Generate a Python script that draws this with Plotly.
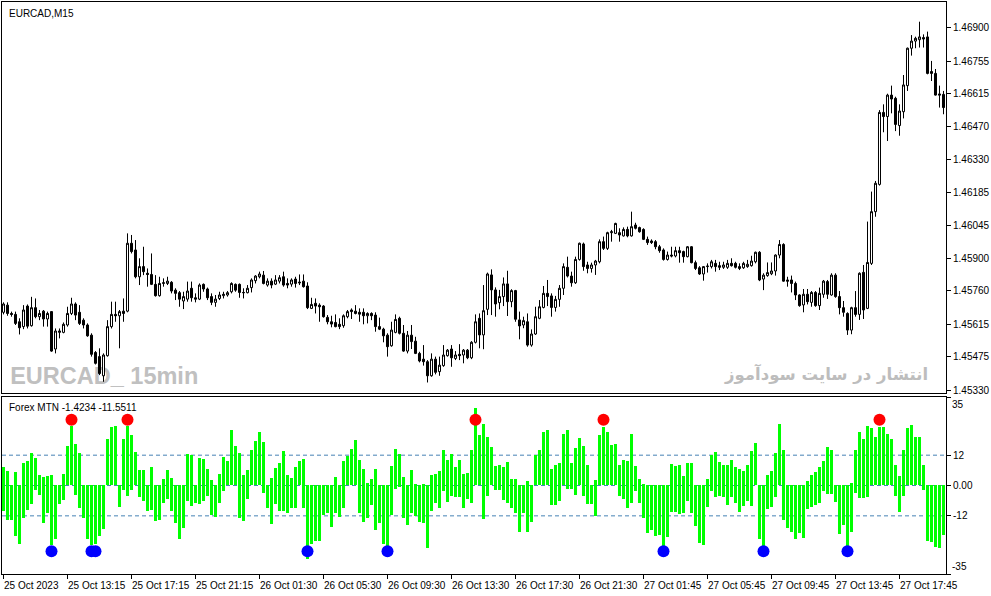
import plotly.graph_objects as go

# ---------------- data (prices in points of 0.00001) ----------------
opens = [145667,145698,145662,145658,145626,145605,145694,145609,145687,145648,
145672,145638,145670,145508,145580,145580,145612,145662,145703,145667,
145633,145612,145568,145493,145475,145392,145479,145605,145658,145652,
145672,145672,145966,145937,145821,145865,145836,145831,145788,145739,
145792,145792,145797,145763,145752,145716,145724,145771,145730,145724,
145788,145768,145735,145710,145727,145739,145742,145756,145788,145788,
145753,145752,145774,145804,145821,145828,145785,145802,145789,145802,
145821,145792,145789,145811,145798,145802,145781,145684,145706,145698,
145694,145645,145626,145623,145615,145609,145648,145677,145672,145667,
145667,145652,145662,145655,145605,145594,145568,145522,145580,145641,
145576,145499,145568,145542,145489,145464,145453,145392,145464,145410,
145436,145479,145508,145467,145485,145482,145503,145470,145537,145641,
145569,145680,145829,145764,145709,145735,145790,145713,145761,145634,
145612,145626,145525,145573,145641,145688,145749,145738,145688,145723,
145771,145862,145824,145795,145896,145963,145872,145857,145872,145886,
145973,145944,146012,146009,146012,145998,146026,145998,146045,146034,
146026,145983,145976,145973,145951,145937,145896,145915,145911,145934,
145930,145908,145951,145882,145860,145833,145865,145865,145879,145869,
145862,145862,145879,145879,145865,145860,145865,145869,145886,145927,
145811,145826,145834,145846,145915,145961,145807,145807,145792,145742,
145699,145745,145710,145753,145696,145745,145800,145742,145828,145735,
145687,145662,145590,145687,145658,145840,145684,145879,146103,146221,
146533,146515,146608,146594,146476,146536,146649,146811,146842,146848,
146857,146860,146710,146702,146613,146611]

highs = [145710,145710,145670,145670,145641,145698,145701,145734,145727,145677,
145677,145670,145672,145597,145597,145623,145691,145730,145710,145698,
145641,145619,145576,145499,145511,145489,145633,145713,145713,145677,
145727,146009,146002,145980,145901,145951,145857,145922,145828,145821,
145814,145821,145802,145771,145759,145756,145800,145800,145749,145792,
145792,145774,145749,145742,145756,145756,145759,145797,145792,145792,
145771,145785,145814,145828,145843,145846,145814,145814,145828,145828,
145843,145814,145814,145821,145831,145831,145797,145730,145727,145706,
145698,145655,145652,145658,145641,145658,145677,145684,145698,145684,
145684,145667,145667,145667,145644,145600,145576,145626,145658,145648,
145612,145586,145612,145561,145496,145525,145460,145489,145475,145475,
145525,145508,145525,145499,145529,145508,145508,145542,145658,145662,
145785,145839,145853,145775,145764,145818,145847,145767,145764,145670,
145648,145662,145593,145691,145720,145781,145807,145749,145738,145785,
145879,145908,145843,145908,145969,145969,145886,145882,145894,145983,
145995,146016,146024,146055,146031,146035,146038,146103,146055,146038,
146031,145995,145983,145980,145959,145944,145930,145951,145951,145951,
145934,145954,145954,145891,145867,145867,145879,145894,145894,145886,
145886,145894,145901,145886,145879,145886,145894,145912,145930,145932,
145836,145883,145883,145918,145980,145966,145821,145826,145800,145745,
145768,145768,145759,145759,145774,145807,145807,145836,145836,145759,
145716,145667,145691,145759,145840,145872,146060,146190,146236,146543,
146568,146614,146649,146601,146568,146695,146814,146868,146861,146926,
146871,146883,146756,146721,146649,146626]

lows = [145658,145652,145648,145612,145571,145594,145597,145605,145641,145633,
145605,145605,145496,145489,145554,145576,145605,145655,145633,145612,
145597,145561,145475,145441,145395,145366,145475,145597,145626,145511,
145626,145667,145922,145814,145785,145828,145778,145785,145735,145735,
145778,145785,145749,145720,145691,145681,145713,145713,145710,145720,
145756,145720,145698,145691,145720,145727,145735,145749,145756,145730,
145727,145749,145753,145792,145814,145788,145778,145771,145785,145792,
145778,145771,145778,145774,145785,145774,145681,145681,145662,145626,
145644,145615,145602,145602,145594,145600,145641,145638,145658,145626,
145615,145619,145633,145583,145590,145537,145475,145518,145576,145571,
145496,145489,145508,145486,145450,145436,145363,145388,145398,145392,
145431,145475,145431,145460,145460,145446,145464,145464,145532,145511,
145507,145655,145655,145648,145680,145694,145651,145689,145626,145550,
145598,145518,145518,145569,145637,145684,145694,145648,145670,145691,
145742,145818,145778,145790,145891,145847,145836,145839,145829,145879,
145937,145937,145973,146006,145973,145995,145992,145995,146026,146012,
145980,145959,145963,145940,145925,145891,145891,145905,145905,145882,
145882,145905,145879,145850,145829,145804,145839,145857,145843,145850,
145855,145855,145865,145857,145850,145855,145860,145865,145879,145802,
145763,145821,145828,145826,145901,145800,145778,145753,145720,145691,
145667,145701,145691,145691,145677,145730,145725,145739,145730,145658,
145648,145569,145572,145648,145634,145638,145681,145872,146081,146216,
146447,146409,146529,146452,146432,146507,146626,146779,146811,146814,
146814,146698,146669,146606,146554,146525]

closes = [145703,145662,145658,145619,145600,145677,145607,145687,145648,145662,
145638,145662,145499,145586,145586,145615,145662,145703,145655,145619,
145612,145565,145485,145446,145402,145482,145605,145658,145652,145670,
145662,145966,145930,145821,145865,145843,145831,145788,145739,145792,
145795,145802,145759,145749,145724,145735,145759,145730,145724,145785,
145768,145730,145710,145724,145742,145745,145752,145792,145763,145753,
145752,145771,145807,145824,145833,145792,145802,145785,145807,145817,
145785,145785,145807,145792,145795,145778,145687,145701,145694,145691,
145648,145626,145616,145605,145605,145652,145670,145670,145662,145659,
145652,145662,145652,145605,145594,145565,145518,145590,145636,145576,
145499,145568,145540,145489,145456,145453,145392,145464,145407,145438,
145482,145503,145470,145482,145479,145503,145470,145537,145626,145569,
145674,145833,145764,145703,145735,145790,145713,145761,145637,145608,
145631,145525,145573,145648,145691,145749,145735,145688,145723,145771,
145865,145824,145795,145896,145966,145865,145857,145872,145889,145973,
145944,146012,146016,146052,146002,146026,145998,146038,146031,146016,
145983,145969,145969,145951,145934,145896,145915,145911,145934,145925,
145908,145951,145882,145857,145833,145865,145867,145886,145865,145862,
145872,145879,145869,145862,145857,145879,145875,145889,145927,145807,
145828,145839,145846,145915,145961,145802,145802,145792,145742,145696,
145745,145713,145753,145696,145749,145802,145745,145828,145735,145687,
145667,145590,145687,145658,145836,145677,145883,146103,146226,146533,
146515,146608,146591,146481,146539,146652,146811,146842,146854,146860,
146851,146702,146702,146608,146608,146554]

# indicator histogram (upper / lower end of every bar)
hist_top = [7.4,5.8,0,5.3,0,8.8,9.5,12.8,10.8,4.3,
3.4,3.6,4.3,0,0.3,4.7,15.5,23.4,16.5,12.8,
0,0,0,0,0,0,18.2,23,23.4,0,
18.2,23.4,19.9,13.2,6.1,6.1,0,7.4,0,0,
2.7,6.1,3,0,0,0,12.4,12.2,0,10.8,
10.5,6.5,2,0,4.7,11.1,9.5,22,15.5,12.8,
4,6,14.2,17.6,21.2,17.3,0,3,7,8.8,
13.5,4,3,7.4,9.7,10.5,0,0,0,0,
0.3,0.3,0,3.4,0,9.7,11.8,14.6,17.8,10.1,
6.5,1,2.7,6.5,0,0,0,7.7,14.6,12.4,
3.4,0,6,0.7,0,0.7,0,4,4.5,5.7,
14.2,10.1,12.4,7.4,10.1,4.7,5.1,14.2,30.8,19.9,
24.3,19.2,15.1,7.7,8.1,7.4,9.2,2.4,2.4,0,
0,1.6,0,11.9,14.2,21.2,21.9,6.5,8.1,8.8,
20.5,21.9,8.8,14.9,18.9,15.5,8.1,0,2,19.9,
23.2,21.2,16.2,16.5,8.1,10.1,9.7,20.5,7.7,2.4,
0.7,0,0,0,0,0,0,8.4,7.8,8.1,
3.6,8.8,8.8,0,0,0,2.7,12.2,13.2,9.2,
8.1,8.1,9.9,7.4,6.5,5.7,8.1,13.8,16.9,0,
0,4,5.7,12.8,24.3,14.2,0,0,0,0,
0,1.6,4,5.4,7.4,9.7,15.1,14.2,0,0,
0,0,1,14.2,21.2,18.2,23.4,22.6,19.3,23,
23,20.5,18.2,8.1,3.8,14.2,22.7,23.9,19.3,19.2,
8.1,0,0,0,0,0]

hist_bottom = [-10.1,-13.5,-13.5,-20,-23,-12.8,-9.5,-7.2,-1.8,-3.8,
-14.9,-10.8,-23.6,-21,-7.2,-5.7,0,0,-3.8,-8.8,
-12.8,-21,-23.6,-23,-20,-17.3,0,0,0,-8.4,
-1.8,-4.3,-1.8,0,-4.7,-6.1,-10.1,-9.5,-14.2,-13.8,
-7,-5.4,-10.1,-14.9,-21,-16.9,-6.1,-8.1,-7,-7.4,
-6.1,-4,-11.5,-12.6,-6.8,-2,0,0,0,-12.8,
-14.2,-5.4,0,0,0,-3.1,-8.8,-15.2,-7.4,-10.1,
-10.1,-11,-8.8,-8.8,0,-8.8,-29,-23,-21.9,-21.9,
-11.5,-10.8,-16.5,-10.8,-12.6,-8.8,0,0,0,-10.8,
-14.6,-12.8,-7.7,-17.6,-14.9,-23,-28.4,-11.5,-1.4,-0.7,
-12.8,-15.5,-11,-11.9,-14.6,-14.9,-24.6,-10.1,-6.8,-8.8,
-2,-6.5,-4.3,-4.5,-4.7,-8.8,-5.4,-6.8,0,0,
-13.2,-4,0,-1.8,-1.8,-5.8,-7,-8.8,-10.8,-18.2,
-10.8,-18.5,-14.6,0,0,0,0,-7.8,-7.8,-6.1,
0,-1.4,-1.4,-3.6,0,-4,-7.2,-7.4,-12.2,0,
0,0,0,0,-4,-5.4,-8.8,-7,-2.3,-7,
-12.8,-18.9,-17.6,-20,-19.6,-24.3,-20.5,-10.5,-10.4,-11.1,
-10.8,-6.1,-10.8,-15.9,-22.6,-23.4,-8.4,-2,-4.7,-4.3,
-4.7,-7.8,-4.7,-6.8,-10.5,-8.1,-6.1,-8.1,0,-21,
-24.3,-9.2,-8.5,-4.7,0,-13.8,-16.9,-18.5,-21,-18.9,
-20.7,-9.2,-8.5,-7.8,-6.8,-2,-3.4,-3.4,-6.5,-19.3,
-15.5,-24.3,-18.2,-3.1,-5.1,-5.1,-4.7,0,0,0,
0,0,0,-4.3,-10.4,-4.3,0,0,0,0,
-1.6,-21.9,-22.5,-24.3,-24.6,-19.6]

sell_signal_bars = [17, 31, 118, 150, 219]
buy_signal_bars = [12, 22, 23, 76, 96, 165, 190, 211]
sell_signal_level = 26
buy_signal_level = -26

price_ticks = [1.46900, 1.46755, 1.46615, 1.46470, 1.46330, 1.46185,
               1.46045, 1.45900, 1.45760, 1.45615, 1.45475, 1.45330]
time_tick_bars = [0, 16, 32, 48, 64, 80, 96, 112, 128, 144, 160, 176, 192, 208, 224]
time_tick_labels = ["25 Oct 2023", "25 Oct 13:15", "25 Oct 17:15", "25 Oct 21:15",
                    "26 Oct 01:30", "26 Oct 05:30", "26 Oct 09:30", "26 Oct 13:30",
                    "26 Oct 17:30", "26 Oct 21:30", "27 Oct 01:45", "27 Oct 05:45",
                    "27 Oct 09:45", "27 Oct 13:45", "27 Oct 17:45"]
ind_levels = [12, 0, -12]

# ---------------- figure ----------------
n = len(opens)
idx = list(range(n))
sc = 1e-5
FONT = "Liberation Sans, Arial, sans-serif"

fig = go.Figure()
fig.add_trace(go.Candlestick(
    x=idx, open=[v * sc for v in opens], high=[v * sc for v in highs],
    low=[v * sc for v in lows], close=[v * sc for v in closes],
    increasing=dict(line=dict(color="black", width=1), fillcolor="white"),
    decreasing=dict(line=dict(color="black", width=1), fillcolor="black"),
    whiskerwidth=0, xaxis="x", yaxis="y", hoverinfo="skip"))

fig.add_trace(go.Bar(
    x=idx, y=[t - b for t, b in zip(hist_top, hist_bottom)], base=hist_bottom,
    marker=dict(color="#00FF00", line=dict(width=0)), width=0.68,
    xaxis="x2", yaxis="y2", hoverinfo="skip"))

fig.add_trace(go.Scatter(
    x=sell_signal_bars, y=[sell_signal_level] * len(sell_signal_bars), mode="markers",
    marker=dict(color="#FF0000", size=12, line=dict(width=0)), xaxis="x2", yaxis="y2"))
fig.add_trace(go.Scatter(
    x=buy_signal_bars, y=[buy_signal_level] * len(buy_signal_bars), mode="markers",
    marker=dict(color="#0000FF", size=12, line=dict(width=0)), xaxis="x2", yaxis="y2"))

xr = [-0.375, n - 0.375]
main_dom = [0.3164, 1.0]
ind_dom = [0.0, 0.3094]

fig.update_layout(
    width=991, height=596, margin=dict(l=2, r=45, t=2, b=22, autoexpand=False),
    paper_bgcolor="white", plot_bgcolor="white", showlegend=False,
    bargap=0, boxgap=0.28,
    font=dict(family=FONT, size=10, color="black"),
    xaxis=dict(domain=[0, 1], anchor="y", range=xr, showticklabels=False, ticks="",
               showgrid=False, zeroline=False, showline=True, mirror=True,
               linecolor="black", linewidth=1, rangeslider=dict(visible=False)),
    xaxis2=dict(domain=[0, 1], anchor="y2", range=xr, matches="x", showgrid=False,
                zeroline=False, showline=True, mirror=True, linecolor="black", linewidth=1,
                tickmode="array", tickvals=time_tick_bars, ticktext=[""] * len(time_tick_bars),
                ticks="outside", ticklen=4, tickcolor="black", tickwidth=1),
    yaxis=dict(domain=main_dom, anchor="x", side="right", range=[1.453173, 1.470113],
               showgrid=False, zeroline=False, showline=True, mirror=True,
               linecolor="black", linewidth=1, tickmode="array", tickvals=price_ticks,
               ticktext=["%.5f" % v for v in price_ticks], ticks="outside", ticklen=4,
               tickcolor="black", tickfont=dict(family=FONT, size=10, color="black")),
    yaxis2=dict(domain=ind_dom, anchor="x2", side="right", range=[-35, 35],
                showgrid=False, zeroline=False, showline=True, mirror=True,
                linecolor="black", linewidth=1, tickmode="array",
                tickvals=[35, 12, 0, -12, -35], ticktext=["", "12", "0.00", "-12", ""],
                ticks="outside", ticklen=4, tickcolor="black",
                tickfont=dict(family=FONT, size=10, color="black")),
)

for lv in ind_levels:
    fig.add_shape(type="line", xref="x2 domain", x0=0, x1=1, yref="y2", y0=lv, y1=lv,
                  line=dict(color="#4682B4", width=1, dash="4px,3px"), layer="below")

# watermark drawn beneath the candles (shape label in the lower layer)
fig.add_shape(type="rect", xref="paper", yref="paper", x0=0.0055, x1=0.30, y0=0.32, y1=0.38,
              line=dict(width=0), fillcolor="rgba(0,0,0,0)", layer="below",
              label=dict(text="<b>EURCAD_ 15min</b>", textposition="middle left", padding=0,
                         font=dict(family="Liberation Sans, sans-serif", size=23.5,
                                   color="#C0C0C0")))

ann = []
ann.append(dict(text="EURCAD,M15", xref="paper", yref="paper", x=0, y=1, xanchor="left",
                yanchor="top", xshift=5, yshift=-4, showarrow=False,
                font=dict(family=FONT, size=10, color="black")))
ann.append(dict(text="Forex MTN -1.4234 -11.5511", xref="paper", yref="paper", x=0,
                y=ind_dom[1], xanchor="left", yanchor="top", xshift=5, yshift=-3,
                showarrow=False, font=dict(family=FONT, size=10, color="black")))
ann.append(dict(text="<b>انتشار در سایت سودآموز</b>", xref="paper", yref="paper", x=0.983,
                y=0.35, xanchor="right", yanchor="middle", showarrow=False,
                font=dict(family="DejaVu Sans, sans-serif", size=16.5, color="#BDBDBD")))
ann.append(dict(text="35", xref="paper", yref="y2", x=1, y=35, xanchor="left",
                yanchor="top", xshift=4, showarrow=False,
                font=dict(family=FONT, size=10, color="black")))
ann.append(dict(text="-35", xref="paper", yref="y2", x=1, y=-35, xanchor="left",
                yanchor="bottom", xshift=4, showarrow=False,
                font=dict(family=FONT, size=10, color="black")))
for pos, lab in zip(time_tick_bars, time_tick_labels):
    ann.append(dict(text=lab, xref="x2", yref="paper", x=pos, y=0, xanchor="left",
                    yanchor="top", xshift=-2, yshift=-4, showarrow=False,
                    font=dict(family=FONT, size=10, color="black")))
fig.update_layout(annotations=ann)

fig.write_html("out.html", config={"displayModeBar": False},
               post_script="document.body.style.margin='0';")
